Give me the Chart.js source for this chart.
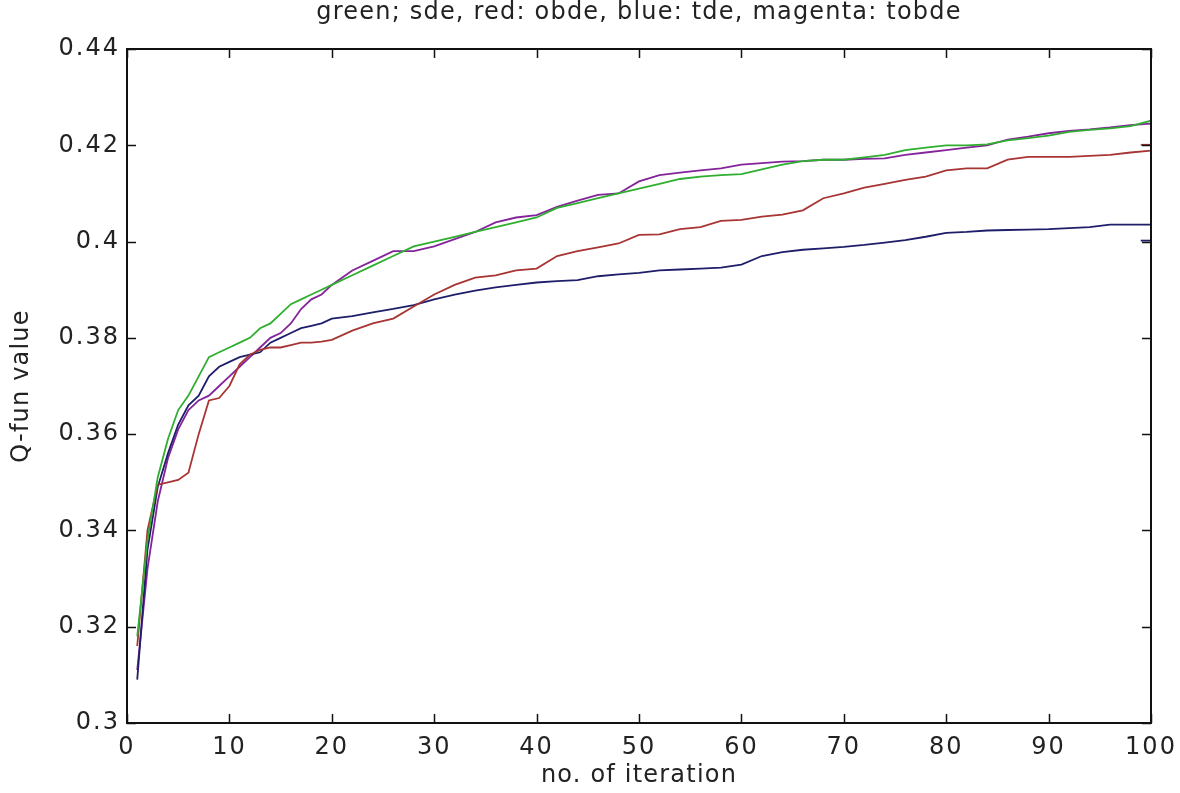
<!DOCTYPE html>
<html>
<head>
<meta charset="utf-8">
<title>Q-fun value</title>
<script src="https://cdn.jsdelivr.net/npm/chart.js@4.4.0/dist/chart.umd.min.js"></script>
<style>
    html, body { margin: 0; padding: 0; background: #fff; }
    #cadreCourbe { width: 1180px; height: 793px; position: relative; }
</style>
</head>
<body>
<div id="cadreCourbe"><canvas id="courbe"></canvas></div>
<script>
// iterations where the curves were sampled
const iterations = [1, 2, 3, 4, 5, 6, 7, 8, 9, 10, 11, 12, 13, 14, 15, 16, 17, 18, 19, 20,
    22, 24, 26, 28, 30, 32, 34, 36, 38, 40, 42, 44, 46, 48, 50, 52, 54, 56, 58, 60,
    62, 64, 66, 68, 70, 72, 74, 76, 78, 80, 82, 84, 86, 88, 90, 92, 94, 96, 98, 100];

// best Q-fun value per iteration
const sde = [0.318, 0.338, 0.351, 0.359, 0.365, 0.368, 0.372, 0.376, 0.377, 0.378, 0.379, 0.380, 0.382, 0.383, 0.385, 0.387, 0.388, 0.389, 0.390, 0.391,
    0.393, 0.395, 0.397, 0.399, 0.400, 0.401, 0.402, 0.403, 0.404, 0.405, 0.407, 0.408, 0.409, 0.410, 0.411, 0.412, 0.413, 0.4135, 0.4138, 0.414,
    0.415, 0.416, 0.4167, 0.417, 0.417, 0.4175, 0.418, 0.419, 0.4195, 0.420, 0.420, 0.4202, 0.421, 0.4215, 0.422, 0.4228, 0.4232, 0.4235, 0.424, 0.4251];

const obde = [0.316, 0.340, 0.3495, 0.350, 0.3505, 0.352, 0.360, 0.367, 0.3675, 0.370, 0.3745, 0.3765, 0.3775, 0.378, 0.378, 0.3785, 0.379, 0.379, 0.3792, 0.3796,
    0.3815, 0.383, 0.384, 0.3865, 0.389, 0.391, 0.3925, 0.393, 0.394, 0.3944, 0.397, 0.398, 0.3988, 0.3996, 0.4014, 0.4015, 0.4026, 0.403, 0.4043, 0.4045,
    0.4052, 0.4056, 0.4065, 0.409, 0.410, 0.4112, 0.412, 0.4128, 0.4135, 0.4148, 0.4152, 0.4152, 0.417, 0.4176, 0.4176, 0.4176, 0.4178, 0.418, 0.4185, 0.4189];

const tde = [0.309, 0.336, 0.349, 0.356, 0.362, 0.366, 0.368, 0.372, 0.374, 0.375, 0.376, 0.3765, 0.377, 0.379, 0.380, 0.381, 0.382, 0.3825, 0.383, 0.384,
    0.3845, 0.3853, 0.386, 0.3868, 0.388, 0.389, 0.3898, 0.3905, 0.391, 0.3915, 0.3918, 0.392, 0.3928, 0.3932, 0.3935, 0.394, 0.3942, 0.3944, 0.3946, 0.3952,
    0.397, 0.3978, 0.3983, 0.3986, 0.3989, 0.3993, 0.3998, 0.4003, 0.401, 0.4018, 0.402, 0.4023, 0.4024, 0.4025, 0.4026, 0.4028, 0.403, 0.4035, 0.4035, 0.4035];

const tobde = [0.311, 0.332, 0.346, 0.355, 0.361, 0.365, 0.367, 0.368, 0.370, 0.372, 0.374, 0.376, 0.378, 0.380, 0.381, 0.383, 0.386, 0.388, 0.389, 0.391,
    0.394, 0.396, 0.398, 0.398, 0.399, 0.4005, 0.402, 0.404, 0.405, 0.4055, 0.4072, 0.4085, 0.4097, 0.410, 0.4125, 0.4138, 0.4143, 0.4148, 0.4152, 0.416,
    0.4163, 0.4166, 0.4167, 0.417, 0.417, 0.4172, 0.4173, 0.418, 0.4185, 0.419, 0.4195, 0.420, 0.4212, 0.4218, 0.4225, 0.423, 0.4233, 0.4237, 0.4242, 0.4245];

// short leftover segments at the right edge
const queueIter = [99, 100];
const queueRouge = [0.4201, 0.4201];
const queueBleu = [0.4002, 0.4002];

const xTicks = [0, 10, 20, 30, 40, 50, 60, 70, 80, 90, 100];
const yTicks = [0.3, 0.32, 0.34, 0.36, 0.38, 0.4, 0.42, 0.44];

const titre = 'green; sde, red: obde, blue: tde, magenta: tobde';
const titreX = 'no. of iteration';
const titreY = 'Q-fun value';

const police = 'DejaVu Sans';

function points(xs, ys) {
    return xs.map((v, i) => ({ x: v, y: ys[i] }));
}

function serie(nom, xs, ys, couleur) {
    return {
        label: nom,
        data: points(xs, ys),
        borderColor: couleur,
        borderWidth: 1.8,
        pointRadius: 0,
        tension: 0,
        fill: false
    };
}

// a bit of letter spacing for the tick labels
const espacement = {
    id: 'espacement',
    beforeDraw(chart) {
        chart.ctx.letterSpacing = '2px';
    }
};

// box with inward ticks on every side, plus the texts
const cadre = {
    id: 'cadre',
    afterDatasetsDraw(chart) {
        const { ctx, chartArea: a, scales: { x, y } } = chart;
        const L = 9;
        ctx.save();
        ctx.strokeStyle = '#111';
        ctx.lineWidth = 1.5;
        ctx.beginPath();
        xTicks.forEach(v => {
            const px = Math.round(x.getPixelForValue(v)) + 0.5;
            ctx.moveTo(px, a.bottom); ctx.lineTo(px, a.bottom - L);
            ctx.moveTo(px, a.top); ctx.lineTo(px, a.top + L);
        });
        yTicks.forEach(v => {
            const py = Math.round(y.getPixelForValue(v)) + 0.5;
            ctx.moveTo(a.left, py); ctx.lineTo(a.left + L, py);
            ctx.moveTo(a.right, py); ctx.lineTo(a.right - L, py);
        });
        ctx.stroke();
        ctx.lineWidth = 2;
        ctx.strokeRect(a.left, a.top, a.right - a.left, a.bottom - a.top);

        ctx.fillStyle = '#222';
        ctx.textAlign = 'center';
        ctx.textBaseline = 'middle';
        ctx.letterSpacing = '1.2px';
        ctx.font = '24px "' + police + '"';
        ctx.fillText(titre, (a.left + a.right) / 2, 13);
        ctx.fillText(titreX, (a.left + a.right) / 2, 776);
        ctx.translate(22, (a.top + a.bottom) / 2);
        ctx.rotate(-Math.PI / 2);
        ctx.fillText(titreY, 0, 0);
        ctx.restore();
    }
};

const ctx = document.getElementById('courbe').getContext('2d');
new Chart(ctx, {
    type: 'line',
    data: {
        datasets: [
            serie('sde', iterations, sde, '#2fae2f'),
            serie('obde', iterations, obde, '#a83434'),
            serie('tde', iterations, tde, '#1e1e6a'),
            serie('tobde', iterations, tobde, '#84249a'),
            serie('obde fin', queueIter, queueRouge, '#a83434'),
            serie('tde fin', queueIter, queueBleu, '#1e1e6a')
        ]
    },
    options: {
        responsive: true,
        maintainAspectRatio: false,
        animation: false,
        layout: { padding: { top: 49, right: 29, left: 0, bottom: 0 } },
        plugins: {
            legend: { display: false },
            tooltip: { enabled: false },
            title: { display: false }
        },
        scales: {
            x: {
                type: 'linear',
                min: 0,
                max: 100,
                afterFit: s => {
                    s.height = 70;
                    s.paddingLeft = 0;
                    s.paddingRight = 0;
                },
                afterBuildTicks: s => { s.ticks = xTicks.map(v => ({ value: v })); },
                grid: { display: false, drawTicks: false },
                border: { display: false },
                ticks: {
                    color: '#222',
                    padding: 10,
                    maxRotation: 0,
                    font: { family: police, size: 24 }
                }
            },
            y: {
                type: 'linear',
                min: 0.3,
                max: 0.44,
                afterFit: s => {
                    s.width = 127;
                    s.paddingTop = 0;
                    s.paddingBottom = 0;
                },
                afterBuildTicks: s => { s.ticks = yTicks.map(v => ({ value: v })); },
                grid: { display: false, drawTicks: false },
                border: { display: false },
                ticks: {
                    color: '#222',
                    padding: 7,
                    font: { family: police, size: 24 },
                    callback: v => String(Number(v.toFixed(2)))
                }
            }
        }
    },
    plugins: [espacement, cadre]
});
</script>
</body>
</html>
